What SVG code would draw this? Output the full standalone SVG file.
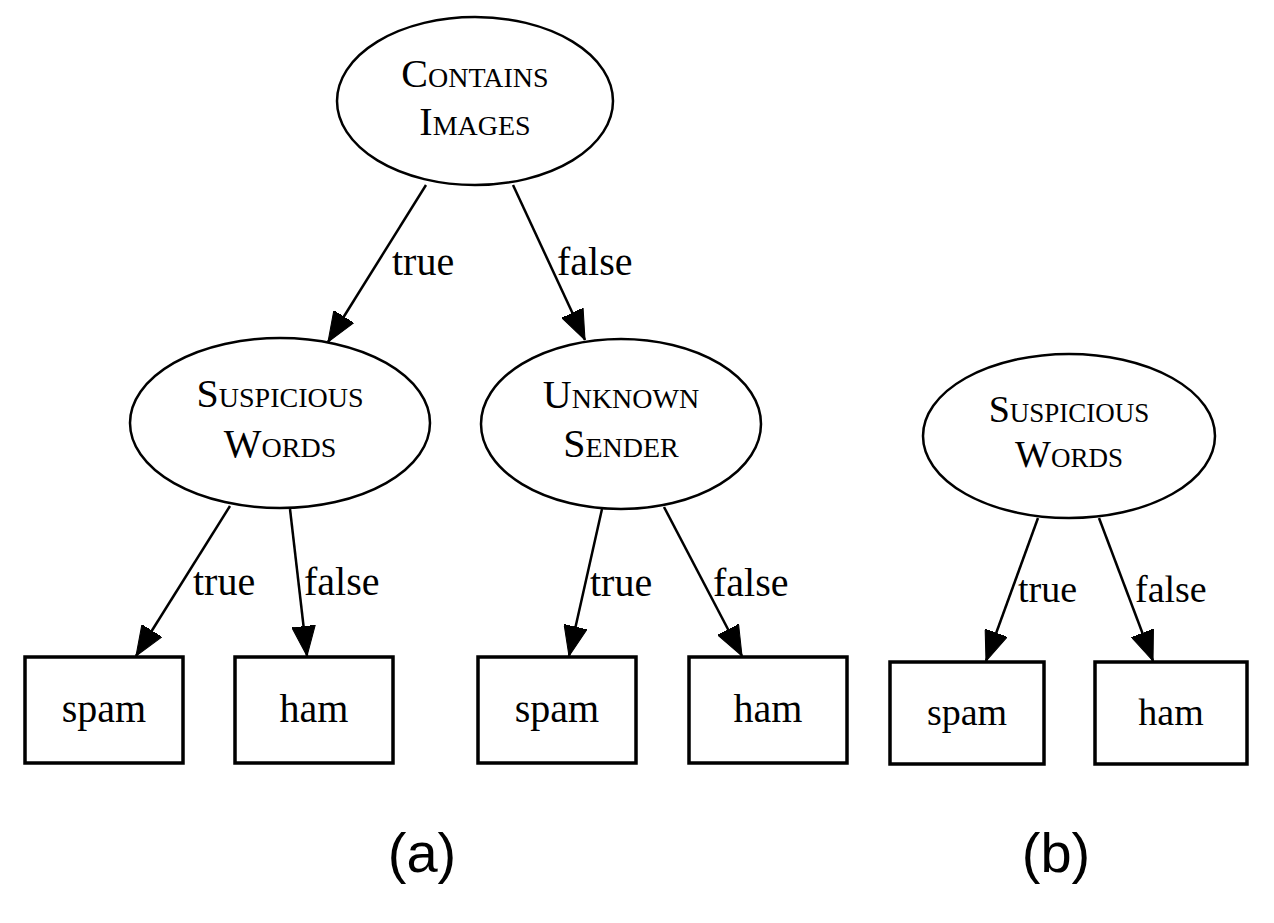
<svg xmlns="http://www.w3.org/2000/svg" width="1274" height="923" viewBox="0 0 1274 923">
<style>
.ell{fill:#fff;stroke:#000;stroke-width:2.5}
.box{fill:#fff;stroke:#000;stroke-width:3.5}
.edge{fill:none;stroke:#000;stroke-width:2.5}
.sc{font-family:"Liberation Serif","Times New Roman",serif;font-size:40px;font-variant:small-caps;text-anchor:middle;fill:#000}
.sc2{font-family:"Liberation Serif","Times New Roman",serif;font-size:38px;font-variant:small-caps;text-anchor:middle;fill:#000}
.lbl{font-family:"Liberation Serif","Times New Roman",serif;font-size:40px;fill:#000}
.lbl2{font-family:"Liberation Serif","Times New Roman",serif;font-size:38px;fill:#000}
.leaf{font-family:"Liberation Serif","Times New Roman",serif;font-size:40px;text-anchor:middle;fill:#000}
.leaf2{font-family:"Liberation Serif","Times New Roman",serif;font-size:38px;text-anchor:middle;fill:#000}
.cap{font-family:"Liberation Sans",Arial,sans-serif;font-size:56px;text-anchor:middle;fill:#000}
</style>
<defs>
<marker id="arr" markerUnits="userSpaceOnUse" markerWidth="30" markerHeight="24" viewBox="0 0 28 22" refX="28" refY="11" orient="auto">
<path d="M0,0 L28,11 L0,22 z" fill="#000" stroke="#000" stroke-width="1"/>
</marker>
</defs>
<rect width="1274" height="923" fill="#fff"/>
<g id="connectors">
<line class="edge" x1="426" y1="185" x2="328" y2="342" marker-end="url(#arr)"/>
<line class="edge" x1="513" y1="185" x2="585" y2="340" marker-end="url(#arr)"/>
<line class="edge" x1="230" y1="506" x2="136" y2="656" marker-end="url(#arr)"/>
<line class="edge" x1="290" y1="509" x2="307" y2="656" marker-end="url(#arr)"/>
<line class="edge" x1="602" y1="509" x2="569" y2="656" marker-end="url(#arr)"/>
<line class="edge" x1="664" y1="507" x2="742" y2="656" marker-end="url(#arr)"/>
<line class="edge" x1="1038" y1="518" x2="986" y2="661" marker-end="url(#arr)"/>
<line class="edge" x1="1099" y1="518" x2="1153" y2="661" marker-end="url(#arr)"/>
<text class="lbl" x="392" y="275">true</text>
<text class="lbl" x="557" y="275">false</text>
<text class="lbl" x="193" y="595">true</text>
<text class="lbl" x="304" y="595">false</text>
<text class="lbl" x="590" y="596">true</text>
<text class="lbl" x="713" y="596">false</text>
<text class="lbl2" x="1018" y="602">true</text>
<text class="lbl2" x="1135" y="602">false</text>
</g>
<g id="contains-images">
<ellipse class="ell" cx="475" cy="101" rx="138" ry="84"/>
<text class="sc" x="475" y="87">Contains</text>
<text class="sc" x="475" y="135">Images</text>
</g>
<g id="suspicious-words-a">
<ellipse class="ell" cx="280" cy="423" rx="150" ry="85"/>
<text class="sc" x="280" y="407">Suspicious</text>
<text class="sc" x="280" y="457">Words</text>
</g>
<g id="unknown-sender">
<ellipse class="ell" cx="621" cy="424" rx="140" ry="85"/>
<text class="sc" x="621" y="408">Unknown</text>
<text class="sc" x="621" y="457">Sender</text>
</g>
<g id="spam-a1">
<rect class="box" x="25" y="657" width="158" height="106"/>
<text class="leaf" x="104" y="722">spam</text>
</g>
<g id="ham-a1">
<rect class="box" x="235" y="657" width="158" height="106"/>
<text class="leaf" x="314" y="722">ham</text>
</g>
<g id="spam-a2">
<rect class="box" x="478" y="657" width="158" height="106"/>
<text class="leaf" x="557" y="722">spam</text>
</g>
<g id="ham-a2">
<rect class="box" x="689" y="657" width="158" height="106"/>
<text class="leaf" x="768" y="722">ham</text>
</g>
<g id="suspicious-words-b">
<ellipse class="ell" cx="1069" cy="436" rx="146" ry="82"/>
<text class="sc2" x="1069" y="422">Suspicious</text>
<text class="sc2" x="1069" y="467">Words</text>
</g>
<g id="spam-b">
<rect class="box" x="890" y="662" width="154" height="102"/>
<text class="leaf2" x="967" y="725">spam</text>
</g>
<g id="ham-b">
<rect class="box" x="1095" y="662" width="152" height="102"/>
<text class="leaf2" x="1171" y="725">ham</text>
</g>
<g id="captions">
<text class="cap" x="422" y="872">(a)</text>
<text class="cap" x="1056" y="872">(b)</text>
</g>
</svg>
